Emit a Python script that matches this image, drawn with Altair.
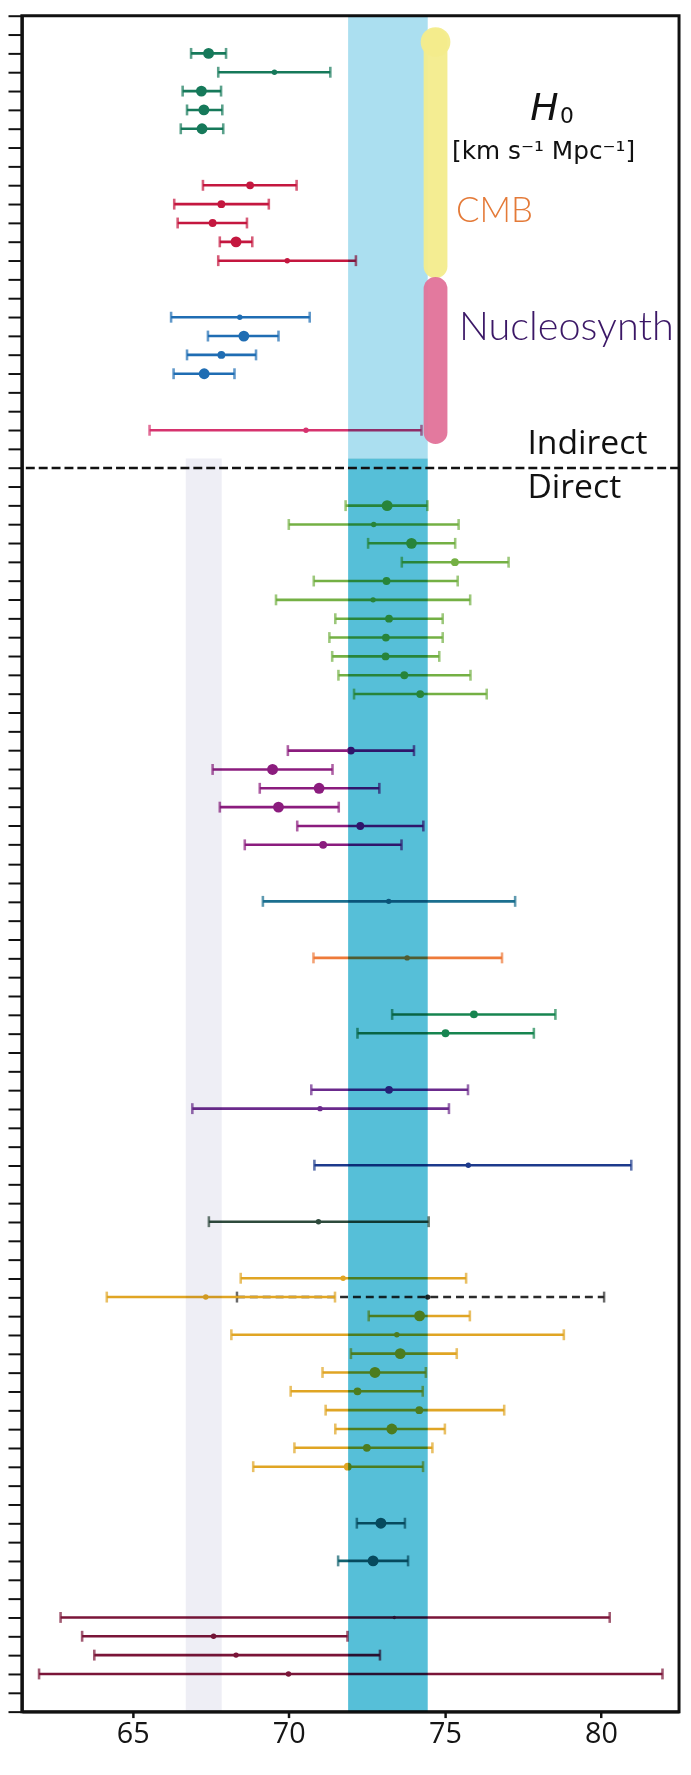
import altair as alt
import pandas as pd

# ---- measurements (row index from top, H0 value, lower, upper) ----
rows = [2, 3, 4, 5, 6,
        9, 10, 11, 12, 13,
        16, 17, 18, 19,
        22,
        26, 27, 28, 29, 30, 31, 32, 33, 34, 35, 36,
        39, 40, 41, 42, 43, 44,
        47, 50, 53, 54, 57, 58, 61, 64,
        67, 68, 69, 70, 71, 72, 73, 74, 75, 76, 77,
        80, 82,
        85, 86, 87, 88]
vals = [67.43, 69.54, 67.20, 67.28, 67.22,
        68.76, 67.84, 67.56, 68.31, 69.95,
        68.43, 68.56, 67.84, 67.29,
        70.55,
        73.15, 72.72, 73.93, 75.32, 73.13, 72.70, 73.21, 73.11, 73.10, 73.70, 74.21,
        71.99, 69.48, 70.97, 69.67, 72.29, 71.10,
        73.20, 73.79, 75.93, 75.02, 73.21, 71.00, 75.75, 70.95,
        71.74, 67.34, 74.19, 73.46, 73.57, 72.76, 72.20, 74.18, 73.30, 72.50, 71.89,
        72.95, 72.70,
        73.38, 67.59, 68.31, 69.99]
lows = [66.87, 67.74, 66.60, 66.74, 66.54,
        67.25, 66.33, 66.44, 67.79, 67.74,
        66.23, 67.41, 66.74, 66.31,
        65.54,
        71.82, 70.00, 72.54, 73.62, 70.80, 69.59, 71.49, 71.30, 71.39, 71.59, 72.09,
        69.97, 67.56, 69.07, 67.79, 70.27, 68.59,
        69.17, 70.79, 73.31, 72.20, 70.72, 66.91, 70.82, 67.44,
        68.46, 64.17, 72.56, 68.16, 71.99, 71.08, 70.06, 71.18, 71.49, 70.18, 68.86,
        72.18, 71.58,
        62.69, 63.38, 63.77, 62.00]
highs = [67.99, 71.33, 67.83, 67.87, 67.90,
         70.25, 69.36, 68.66, 68.83, 72.15,
         70.67, 69.67, 68.95, 68.26,
         74.25,
         74.44, 75.44, 75.33, 77.04, 75.41, 75.81, 74.93, 74.93, 74.82, 75.82, 76.34,
         74.01, 71.40, 72.90, 71.60, 74.31, 73.61,
         77.25, 76.83, 78.54, 77.85, 75.74, 75.13, 80.97, 74.48,
         75.68, 71.48, 75.80, 78.81, 75.38, 74.39, 74.29, 76.90, 75.00, 74.60, 74.30,
         73.72, 73.82,
         80.28, 71.88, 72.92, 81.97]
groups = ["g1"] * 5 + ["g2"] * 5 + ["g3"] * 4 + ["g4"] + ["g5"] * 11 + ["g6"] * 6 + \
         ["g7", "g8", "g9", "g9", "g10", "g10", "g11", "g12"] + ["g13"] * 11 + \
         ["g14"] * 2 + ["g15"] * 4
marker = ["B", "S", "B", "B", "B",
          "M", "M", "M", "B", "S",
          "S", "B", "M", "B",
          "S",
          "B", "S", "B", "M", "M", "S", "M", "M", "M", "M", "M",
          "M", "B", "B", "B", "M", "M",
          "S", "S", "M", "M", "M", "S", "S", "S",
          "S", "S", "B", "S", "B", "B", "M", "M", "B", "M", "M",
          "B", "B",
          "T", "S", "S", "S"]

palette = {"g1": "#16795a", "g2": "#c4173f", "g3": "#1f6db3", "g4": "#d6336e",
           "g5": "#74b044", "g6": "#8b1c7e", "g7": "#1b6f8f", "g8": "#ee7b3a",
           "g9": "#178550", "g10": "#6b2a8c", "g11": "#1d3a8c", "g12": "#2e4a3c",
           "g13": "#e0a524", "g14": "#11626f", "g15": "#7a1538"}
size_map = {"B": 120, "M": 62, "S": 30, "T": 12}

df = pd.DataFrame({"row": rows, "val": vals, "lo": lows, "hi": highs,
                   "color": [palette[g] for g in groups],
                   "size": [size_map[m] for m in marker]})

# dashed (black) companion measurement on row 68
dash_row = [68]
dash_val = [74.45]
dash_lo = [68.34]
dash_hi = [80.10]
ddf = pd.DataFrame({"row": dash_row, "val": dash_val, "lo": dash_lo, "hi": dash_hi})

# shaded bands
band_x = [71.9, 71.9, 66.7]
band_x2 = [74.45, 74.45, 67.85]
band_y = [0, 23.5, 23.5]
band_y2 = [23.5, 90, 90]
band_col = ["#abdff0", "#56bfd8", "#eeeef5"]
bdf = pd.DataFrame({"x": band_x, "x2": band_x2, "y": band_y, "y2": band_y2, "c": band_col})

# hand-drawn highlighter strokes
hl_x = [74.7, 74.7]
hl_y = [1.3, 14.5]
hl_y2 = [13.3, 22.1]
hl_col = ["#f3ec8c", "#e27299"]
hdf = pd.DataFrame({"x": hl_x, "y": hl_y, "y2": hl_y2, "c": hl_col})
blob = pd.DataFrame({"x": [74.7], "y": [1.4]})

x_ticks = [65, 70, 75, 80]
y_ticks = list(range(0, 91))
divider_row = 24

xs = alt.Scale(domain=[61.45, 82.5], nice=False, zero=False)
ys = alt.Scale(domain=[0, 90], reverse=True, nice=False, zero=False)
xaxis = alt.Axis(values=x_ticks, title=None, grid=False, tickSize=6, tickWidth=2.5,
                 domainWidth=3, domainColor="#111", tickColor="#111",
                 labelFont="Open Sans", labelFontSize=29, labelColor="#151515",
                 labelPadding=2)
yaxis = alt.Axis(values=y_ticks, title=None, grid=False, labels=False, tickSize=14,
                 tickWidth=2, domainWidth=3, domainColor="#111", tickColor="#111")

def X(f):
    return alt.X(f, type="quantitative", scale=xs, axis=xaxis)

def Y(f):
    return alt.Y(f, type="quantitative", scale=ys, axis=yaxis)

col = alt.Color("color:N", scale=None, legend=None)
base = alt.Chart(df)

dash_line = alt.Chart(ddf).mark_rule(strokeWidth=2.5, strokeDash=[8, 5], color="#2b2b2b").encode(
    x=X("lo"), x2="hi", y=Y("row"))
dash_caps = alt.Chart(ddf).transform_fold(["lo", "hi"], as_=["k", "v"]).mark_tick(
    orient="vertical", size=11, thickness=2.5, color="#2b2b2b").encode(x=X("v"), y=Y("row"))
dash_pt = alt.Chart(ddf).mark_circle(size=28, opacity=1, color="#2b2b2b").encode(x=X("val"), y=Y("row"))

bars = base.mark_rule(strokeWidth=2.6).encode(x=X("lo"), x2="hi", y=Y("row"), color=col)
caps = base.transform_fold(["lo", "hi"], as_=["k", "v"]).mark_tick(
    orient="vertical", size=11, thickness=2.6).encode(x=X("v"), y=Y("row"), color=col)
pts = base.mark_circle(opacity=1).encode(x=X("val"), y=Y("row"), color=col,
                                          size=alt.Size("size:Q", scale=None, legend=None))

bands = alt.Chart(bdf).mark_rect(blend="multiply").encode(
    x=X("x"), x2="x2", y=Y("y"), y2="y2", color=alt.Color("c:N", scale=None, legend=None))

hl = alt.Chart(hdf).mark_rule(strokeWidth=24, strokeCap="round", opacity=0.95).encode(
    x=X("x"), y=Y("y"), y2="y2", color=alt.Color("c:N", scale=None, legend=None))
hl_blob = alt.Chart(blob).mark_circle(size=900, opacity=0.95, color="#f3ec8c").encode(
    x=X("x"), y=Y("y"))

divider = alt.Chart(pd.DataFrame({"r": [divider_row]})).mark_rule(
    strokeDash=[9, 4], strokeWidth=2.5, color="#111").encode(y=Y("r"))

def label(txt, x, y, **kw):
    return alt.Chart(pd.DataFrame({"t": [txt]})).mark_text(
        align="left", baseline="alphabetic", **kw).encode(
        text="t:N", x=alt.value(x), y=alt.value(y))

texts = [
    label("H", 513, 105, font="DejaVu Sans", fontStyle="italic", fontSize=38, color="#111"),
    label("0", 543, 108, font="DejaVu Sans", fontSize=22, color="#111"),
    label("[km s\u207b\u00b9 Mpc\u207b\u00b9]", 434, 145, font="DejaVu Sans", fontSize=25, color="#111"),
    label("CMB", 438, 208, font="Lato", fontWeight=300, fontSize=35, color="#e47a38"),
    label("Nucleosynth", 441, 327, font="Lato", fontWeight=300, fontSize=40, color="#3b1766"),
    label("Indirect", 510, 442, font="Open Sans", fontSize=34, color="#111"),
    label("Direct", 510, 487, font="Open Sans", fontSize=34, color="#111"),
]

chart = alt.layer(
    dash_line, dash_caps, dash_pt, bars, caps, pts, bands, hl, hl_blob, divider, *texts
).properties(
    width=663, height=1711,
    autosize=alt.AutoSizeParams(type="none"),
    padding={"left": 14, "top": 0, "right": 4, "bottom": 40},
).configure_view(stroke="#111", strokeWidth=3)

chart.save("out.html", embed_options={"renderer": "svg", "actions": False})
